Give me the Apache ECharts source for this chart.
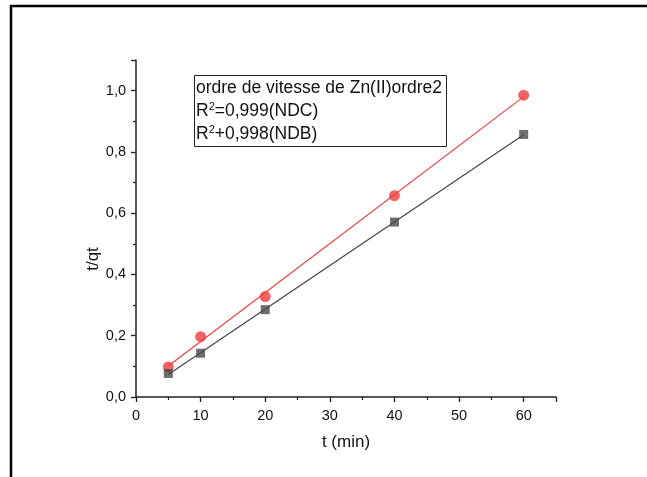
<!DOCTYPE html>
<html><head><meta charset="utf-8">
<script src="https://cdn.jsdelivr.net/npm/echarts@6/dist/echarts.min.js"></script>
<style>html,body{margin:0;padding:0;background:#fff}#c{width:647px;height:477px}</style>
</head><body><div id="c"></div>
<script>
const tValues = [5, 10, 20, 40, 60];
const ndbValues = [0.077, 0.143, 0.285, 0.571, 0.857];
const ndcValues = [0.098, 0.197, 0.328, 0.657, 0.985];
const xTicks = [0, 10, 20, 30, 40, 50, 60];
const yTicks = [0.0, 0.2, 0.4, 0.6, 0.8, 1.0];

function fit(xs, ys) {
  const n = xs.length;
  const mx = xs.reduce((a,b)=>a+b,0)/n, my = ys.reduce((a,b)=>a+b,0)/n;
  let sxy=0, sxx=0;
  for (let i=0;i<n;i++){ sxy+=(xs[i]-mx)*(ys[i]-my); sxx+=(xs[i]-mx)**2; }
  const b = sxy/sxx, a = my - b*mx;
  const x0 = xs[0], x1 = xs[n-1];
  return [[x0, a+b*x0], [x1, a+b*x1]];
}
const pts = (xs, ys) => xs.map((x,i)=>[x, ys[i]]);

const FONT = 'Liberation Sans, Arial, sans-serif';
const chart = echarts.init(document.getElementById('c'), null, {renderer:'canvas'});
const axLine = {show:true, lineStyle:{color:'#222', width:1.5}};
const axTick = {show:true, inside:false, length:5, lineStyle:{color:'#222', width:1.3}};
const minTick = {show:true, splitNumber:2, length:3, lineStyle:{color:'#222', width:1.2}};
chart.setOption({
  animation:false,
  backgroundColor:'#fff',
  grid:{left:136, top:60, right:91, bottom:80},
  xAxis: {type:'value', min:0, max:65, interval:10,
    name:'t (min)', nameLocation:'middle', nameGap:37,
    nameTextStyle:{fontSize:17, color:'#111', fontFamily:FONT},
    axisLine:axLine, axisTick:axTick, minorTick:minTick, splitLine:{show:false},
    axisLabel:{color:'#111', fontSize:14.5, fontFamily:FONT, margin:11,
      formatter: v => xTicks.includes(v) ? String(v) : ''}
  },
  yAxis: {type:'value', min:0, max:1.1, interval:0.2,
    axisLine:axLine, axisTick:axTick, minorTick:minTick, splitLine:{show:false},
    axisLabel:{color:'#111', fontSize:14.5, fontFamily:FONT, margin:10,
      formatter: v => yTicks.some(t=>Math.abs(t-v)<1e-9) ? v.toFixed(1).replace('.', ',') : ''}
  },
  series:[
    {type:'line', data:fit(tValues, ndcValues), symbol:'none', lineStyle:{color:'#f03c3c', width:1.2}, z:2},
    {type:'line', data:fit(tValues, ndbValues), symbol:'none', lineStyle:{color:'#444', width:1.2}, z:2},
    {type:'scatter', data:pts(tValues, ndcValues), symbol:'circle', symbolSize:11, itemStyle:{color:'#f03c3c'}, z:3},
    {type:'scatter', data:pts(tValues, ndbValues), symbol:'rect', symbolSize:9, itemStyle:{color:'#4a4a4a'}, z:3}
  ],
  graphic:[
    {type:'polyline', shape:{points:[[11,477],[11,6],[647,6]]}, style:{stroke:'#000', lineWidth:2.5, fill:null}},
    {type:'text', x:93, y:259, rotation:Math.PI/2, style:{text:'t/qt', fontSize:17, fontFamily:FONT, fill:'#111', textAlign:'center', textVerticalAlign:'middle'}},
    {type:'rect', shape:{x:194.5, y:75.5, width:252, height:71}, style:{stroke:'#222', lineWidth:1, fill:'#fff'}},
    {type:'text', x:196, y:88, style:{text:'ordre de vitesse de Zn(II)ordre2', fontSize:17.5, fontFamily:FONT, fill:'#111', textVerticalAlign:'middle'}},
    {type:'text', x:196, y:111, style:{text:'{a|R}{s|2}{a|=0,999(NDC)}', fontFamily:FONT, fill:'#111', textVerticalAlign:'middle',
      rich:{a:{fontSize:17.5, fontFamily:FONT, color:'#111'}, s:{fontSize:11, fontFamily:FONT, color:'#111', verticalAlign:'top', padding:[0,0,8,0]}}}},
    {type:'text', x:196, y:134, style:{text:'{a|R}{s|2}{a|+0,998(NDB)}', fontFamily:FONT, fill:'#111', textVerticalAlign:'middle',
      rich:{a:{fontSize:17.5, fontFamily:FONT, color:'#111'}, s:{fontSize:11, fontFamily:FONT, color:'#111', verticalAlign:'top', padding:[0,0,8,0]}}}}
  ]
});
</script></body></html>
